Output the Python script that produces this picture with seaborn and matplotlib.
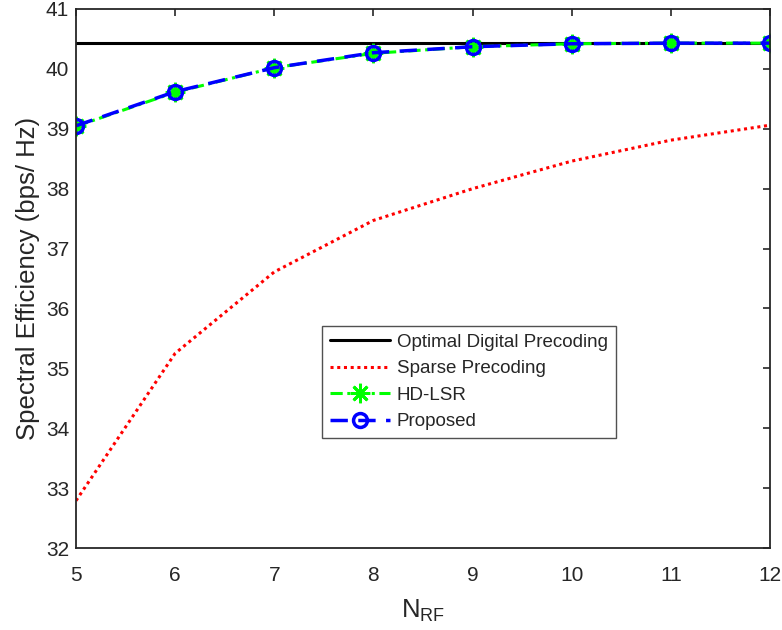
import matplotlib
matplotlib.use("Agg")
import matplotlib.pyplot as plt
import seaborn as sns
import pandas as pd

n_rf = [5, 6, 7, 8, 9, 10, 11, 12]
optimal = [40.43, 40.43, 40.43, 40.43, 40.43, 40.43, 40.43, 40.43]
sparse = [32.79, 35.25, 36.61, 37.47, 38.00, 38.46, 38.81, 39.06]
hd_lsr = [39.04, 39.61, 40.02, 40.26, 40.37, 40.42, 40.43, 40.43]
proposed = [39.05, 39.62, 40.02, 40.27, 40.37, 40.42, 40.43, 40.43]

sns.set_theme(style="white")
plt.rcParams["font.family"] = ["Liberation Sans", "DejaVu Sans"]
plt.rcParams["mathtext.default"] = "regular"

fig = plt.figure(figsize=(7.82, 6.3), dpi=100)
ax = fig.add_axes([76 / 782, 1 - 548 / 630, (770 - 76) / 782, (548 - 9) / 630])

df = pd.DataFrame({"x": n_rf, "opt": optimal, "sp": sparse, "hd": hd_lsr, "pr": proposed})

sns.lineplot(data=df, x="x", y="opt", ax=ax, color="black", lw=2.2,
             label="Optimal Digital Precoding")
sns.lineplot(data=df, x="x", y="sp", ax=ax, color="red", lw=2.2, linestyle=(0, (1, 1.2)),
             label="Sparse Precoding")
sns.lineplot(data=df, x="x", y="hd", ax=ax, color="#00ff00", lw=2.2, linestyle=(0, (4, 1.5, 1, 1.5)),
             marker=(8, 2, 0), markersize=14, markeredgewidth=2, markeredgecolor="#00ff00",
             label="HD-LSR")
sns.lineplot(data=df, x="x", y="pr", ax=ax, color="blue", lw=2.5, linestyle=(0, (5, 3)),
             marker="o", markersize=10, markerfacecolor="none", markeredgewidth=2.5,
             markeredgecolor="blue", label="Proposed")

ax.set_xlim(5, 12)
ax.set_ylim(32, 41)
ax.set_xticks(range(5, 13))
ax.set_yticks(range(32, 42))
ax.tick_params(direction="in", length=5, width=1.2, labelsize=15, colors="#262626",
               top=True, right=True)
ax.tick_params(axis="x", pad=13)
ax.tick_params(axis="y", pad=5)
for s in ax.spines.values():
    s.set_visible(True)
    s.set_color("#262626")
    s.set_linewidth(1.3)

ax.set_xlabel("N$_{RF}$", fontsize=18.5, color="#262626", labelpad=9)
ax.set_ylabel("Spectral Efficiency (bps/ Hz)", fontsize=18.5, color="#262626", labelpad=4)

leg = ax.legend(loc="upper left", bbox_to_anchor=((322 - 76) / 694, 1 - (326 - 9) / 539),
                fontsize=13.5, frameon=True, fancybox=False, edgecolor="#262626",
                handlelength=3.2, borderpad=0.4, labelspacing=0.5, handletextpad=0.4,
                borderaxespad=0)
leg.get_frame().set_linewidth(1.0)

fig.savefig("out.png", dpi=100)
